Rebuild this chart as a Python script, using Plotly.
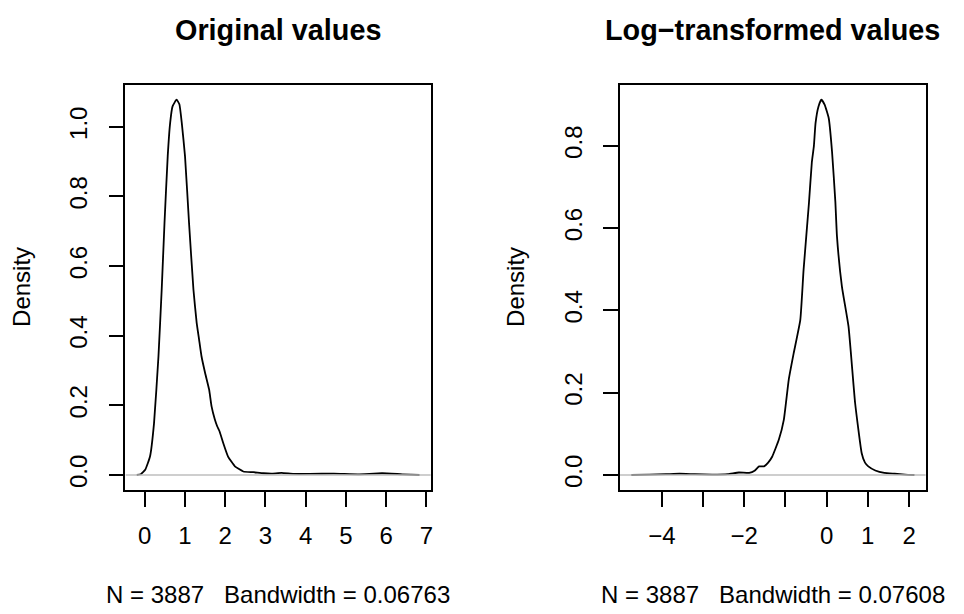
import plotly.graph_objects as go

# ---- data ----
orig_x = [-0.20, -0.10, 0.01, 0.13, 0.23, 0.34, 0.42, 0.49, 0.57, 0.63, 0.69, 0.79, 0.86, 0.92,
          1.00, 1.10, 1.21, 1.29, 1.35, 1.41, 1.50, 1.60, 1.66, 1.74, 1.80, 1.86, 1.95, 2.07,
          2.24, 2.45, 2.70, 2.95, 3.15, 3.40, 3.70, 4.10, 4.70, 5.30, 5.90, 6.40, 6.83]
orig_y = [0.000, 0.002, 0.015, 0.053, 0.149, 0.341, 0.532, 0.724, 0.916, 1.011, 1.059, 1.078,
          1.065, 1.011, 0.916, 0.724, 0.532, 0.437, 0.389, 0.341, 0.293, 0.245, 0.197, 0.160,
          0.140, 0.125, 0.092, 0.053, 0.025, 0.010, 0.008, 0.005, 0.004, 0.006, 0.003, 0.003,
          0.004, 0.002, 0.005, 0.002, 0.000]

log_x = [-4.74, -4.30, -3.90, -3.57, -3.20, -2.78, -2.40, -2.13, -1.88, -1.75, -1.64, -1.52,
         -1.42, -1.32, -1.16, -1.04, -0.92, -0.80, -0.64, -0.56, -0.43, -0.36, -0.31, -0.27,
         -0.20, -0.13, -0.05, 0.05, 0.13, 0.21, 0.25, 0.37, 0.53, 0.69, 0.85, 0.93, 1.01,
         1.18, 1.40, 1.65, 1.90, 2.13]
log_y = [0.000, 0.001, 0.002, 0.003, 0.002, 0.001, 0.002, 0.006, 0.005, 0.010, 0.021, 0.021,
         0.030, 0.045, 0.086, 0.134, 0.232, 0.296, 0.377, 0.499, 0.661, 0.760, 0.800, 0.855,
         0.895, 0.912, 0.900, 0.867, 0.786, 0.665, 0.580, 0.458, 0.361, 0.175, 0.053, 0.030,
         0.021, 0.011, 0.005, 0.003, 0.001, 0.000]

titles = ["Original values", "Log\u2212transformed values"]
subtitles = ["N = 3887\u00a0\u00a0\u00a0Bandwidth = 0.06763",
             "N = 3887\u00a0\u00a0\u00a0Bandwidth = 0.07608"]
ylabel = "Density"

orig_xticks = [0, 1, 2, 3, 4, 5, 6, 7]
orig_xtext = ["0", "1", "2", "3", "4", "5", "6", "7"]
orig_yticks = [0.0, 0.2, 0.4, 0.6, 0.8, 1.0]
orig_ytext = ["0.0", "0.2", "0.4", "0.6", "0.8", "1.0"]
log_xticks = [-4, -3, -2, -1, 0, 1, 2]
log_xtext = ["\u22124", "", "\u22122", "", "0", "", "2"]
log_extra_label_x = [1]
log_extra_label_text = ["1"]
log_yticks = [0.0, 0.2, 0.4, 0.6, 0.8]
log_ytext = ["0.0", "0.2", "0.4", "0.6", "0.8"]

# ---- layout geometry ----
W, H = 964, 614
FONT = "Liberation Sans, Arial, Helvetica, sans-serif"
FS = 24


def rng(vals, lo0=None):
    lo = min(vals) if lo0 is None else lo0
    hi = max(vals)
    d = hi - lo
    return [lo - 0.04 * d, hi + 0.04 * d]


xdom1 = [125.7 / W, 431.7 / W]
xdom2 = [621.3 / W, 927.7 / W]
ydom = [(H - 490) / H, (H - 84.7) / H]

fig = go.Figure()
fig.add_trace(go.Scatter(x=orig_x, y=orig_y, mode="lines", xaxis="x", yaxis="y",
                         line=dict(color="black", width=1.8, shape="spline", smoothing=0.4),
                         showlegend=False, hoverinfo="skip"))
r1 = rng(orig_x)
fig.add_trace(go.Scatter(x=r1, y=[0, 0], mode="lines", xaxis="x", yaxis="y",
                         line=dict(color="#BEBEBE", width=1.5), showlegend=False, hoverinfo="skip"))
fig.add_trace(go.Scatter(x=log_x, y=log_y, mode="lines", xaxis="x2", yaxis="y2",
                         line=dict(color="black", width=1.8, shape="spline", smoothing=0.4),
                         showlegend=False, hoverinfo="skip"))
r2 = rng(log_x)
fig.add_trace(go.Scatter(x=r2, y=[0, 0], mode="lines", xaxis="x2", yaxis="y2",
                         line=dict(color="#BEBEBE", width=1.5), showlegend=False, hoverinfo="skip"))

axcommon = dict(showline=True, mirror=True, linecolor="black", linewidth=1.6,
                ticks="outside", ticklen=15, tickwidth=1.6, tickcolor="black",
                showgrid=False, zeroline=False, tickfont=dict(family=FONT, size=FS, color="black"))

fig.update_layout(
    width=W, height=H, paper_bgcolor="white", plot_bgcolor="white",
    margin=dict(l=0, r=0, t=0, b=0), showlegend=False,
    font=dict(family=FONT, size=FS, color="black"),
    xaxis=dict(domain=xdom1, range=r1, anchor="y", tickmode="array",
               tickvals=orig_xticks, ticktext=orig_xtext, ticklabelstandoff=8, **axcommon),
    yaxis=dict(domain=ydom, range=rng(orig_y, 0), anchor="x", tickmode="array",
               tickvals=orig_yticks, ticktext=orig_ytext, tickangle=-90,
               ticklabelstandoff=12, **axcommon),
    xaxis2=dict(domain=xdom2, range=r2, anchor="y2", tickmode="array",
                tickvals=log_xticks, ticktext=log_xtext, ticklabelstandoff=8, **axcommon),
    yaxis2=dict(domain=ydom, range=rng(log_y, 0), anchor="x2", tickmode="array",
                tickvals=log_yticks, ticktext=log_ytext, tickangle=-90,
                ticklabelstandoff=12, **axcommon),
)

# tick label that plotly would otherwise drop, placed through the x2 scale
for xv, tx in zip(log_extra_label_x, log_extra_label_text):
    fig.add_annotation(text=tx, xref="x2", yref="paper", x=xv, y=1 - 535 / H,
                       xanchor="center", yanchor="middle", showarrow=False,
                       font=dict(family=FONT, size=FS, color="black"))

centers = [(xdom1[0] + xdom1[1]) / 2, (xdom2[0] + xdom2[1]) / 2]
ylab_x = [21 / W, 516 / W]
for i in range(2):
    fig.add_annotation(text="<b>" + titles[i] + "</b>", xref="paper", yref="paper",
                       x=centers[i], y=1 - 30 / H, xanchor="center", yanchor="middle",
                       showarrow=False, font=dict(family=FONT, size=28.8, color="black"))
    fig.add_annotation(text=subtitles[i], xref="paper", yref="paper",
                       x=centers[i], y=1 - 594 / H, xanchor="center", yanchor="middle",
                       showarrow=False, font=dict(family=FONT, size=FS, color="black"))
    fig.add_annotation(text=ylabel, xref="paper", yref="paper", textangle=-90,
                       x=ylab_x[i], y=1 - 287 / H, xanchor="center", yanchor="middle",
                       showarrow=False, font=dict(family=FONT, size=FS, color="black"))

fig.write_html("out.html", config={"displayModeBar": False},
               post_script="document.body.style.margin='0';document.body.style.overflow='hidden';")
